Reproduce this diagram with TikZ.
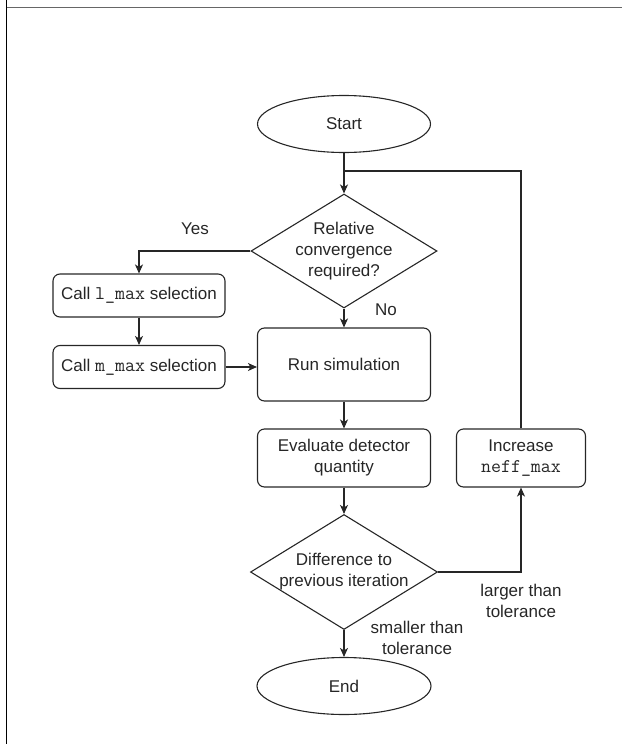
\documentclass[tikz,border=0pt]{standalone}
\usepackage{fontspec}
\setmainfont{Liberation Sans}
\setmonofont{Latin Modern Mono}[Scale=1.14]
\usetikzlibrary{shapes.geometric,arrows.meta}

\tikzset{
  every node/.style={font=\fontsize{17}{21}\selectfont, text=black!85},
  flowline/.style={draw=black!85, line width=1.1pt},
  arrowline/.style={flowline, -{Stealth[length=9pt,width=8pt,inset=2.5pt]}},
  terminal/.style={ellipse, draw=black!85, line width=1.1pt, inner sep=0pt},
  process/.style={rectangle, rounded corners=7pt, draw=black!85, line width=1.1pt,
    inner sep=0pt, align=center},
  decision/.style={diamond, draw=black!85, line width=1.1pt, inner sep=0pt},
  caption/.style={align=center, inner sep=0pt},
}

\begin{document}
\begin{tikzpicture}[x=1pt, y=-1pt]
\useasboundingbox (0,0) rectangle (622,744);

% page frame
\draw[black, line width=1pt] (6.7,0) -- (6.7,744);
\draw[black!60, line width=1.4pt] (6.7,7.6) -- (622,7.6);

% nodes
\node[terminal, minimum width=173pt, minimum height=57pt] (start) at (344,124) {Start};

\node[decision, minimum width=186pt, minimum height=114pt] (d1) at (344,251) {};
\node[caption] (d1text) at (344,251) {Relative\\convergence\\required?};

\node[process, minimum width=172pt, minimum height=43pt] (lmax) at (139,295.5)
  {Call \texttt{l\_max} selection};
\node[process, minimum width=172pt, minimum height=43pt] (mmax) at (139,367)
  {Call \texttt{m\_max} selection};

\node[process, minimum width=173pt, minimum height=73pt] (run) at (344,364.5) {Run simulation};

\node[process, minimum width=173pt, minimum height=58pt] (eval) at (344,458)
  {Evaluate detector\\quantity};

\node[decision, minimum width=187pt, minimum height=115pt] (d2) at (344,572) {};
\node[caption] (d2text) at (344,572) {Difference to\\previous iteration};

\node[terminal, minimum width=174pt, minimum height=57pt] (end) at (344,686) {End};

\node[process, minimum width=129pt, minimum height=58pt] (inc) at (521,458)
  {Increase\\\texttt{neff\_max}};

\coordinate (join) at (344,171);

% connectors
\draw[arrowline] (start) -- (d1);
\draw[arrowline] (d1.west) -| (lmax.north);
\draw[arrowline] (lmax) -- (mmax);
\draw[arrowline] (mmax.east) -- (mmax.east -| run.west);
\draw[arrowline] (d1.south) -- (run.north);
\draw[arrowline] (run) -- (eval);
\draw[arrowline] (eval) -- (d2);
\draw[arrowline] (d2.south) -- (end.north);
\draw[arrowline] (d2.east) -| (inc.south);
\draw[flowline] (inc.north) |- (join);

% branch labels
\node[caption] (yes) at (195,229) {Yes};
\node[caption] (no) at (386,310) {No};
\node[caption] (larger) at (521,601) {larger than\\tolerance};
\node[caption] (smaller) at (417,638) {smaller than\\tolerance};
\end{tikzpicture}
\end{document}
